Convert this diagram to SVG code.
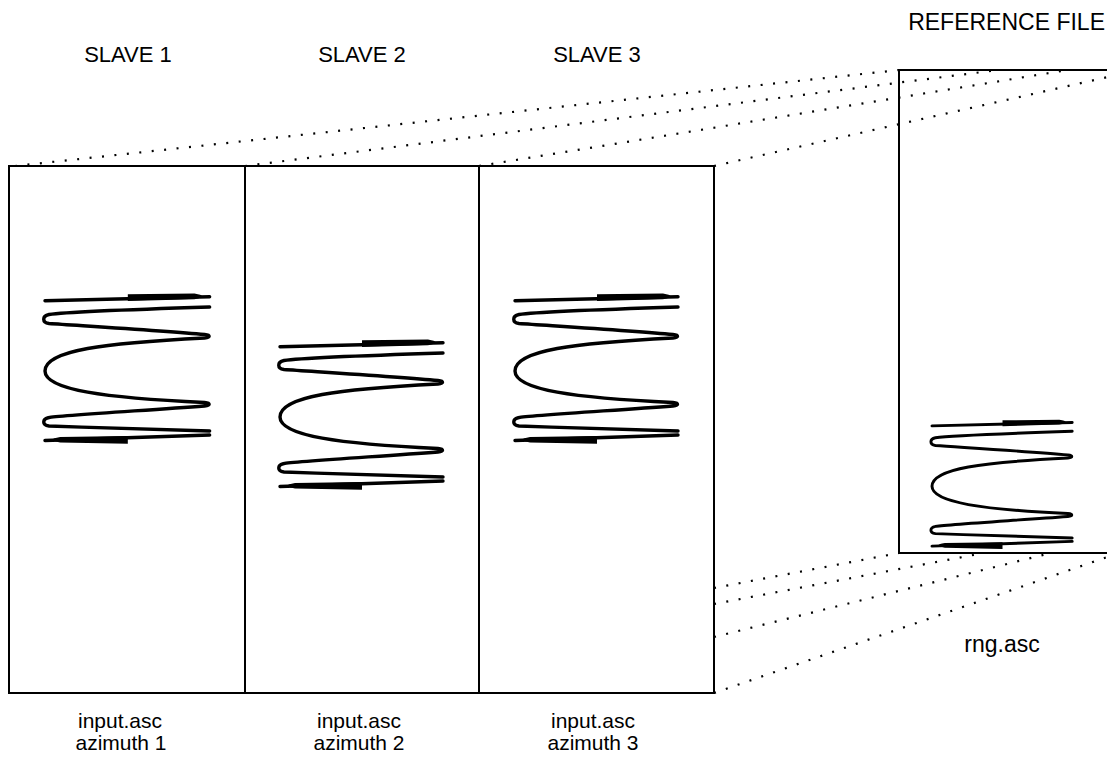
<svg xmlns="http://www.w3.org/2000/svg" xmlns:xlink="http://www.w3.org/1999/xlink" width="1107" height="775" viewBox="0 0 1107 775">
  <style>
    .frame { fill: none; stroke: #000; stroke-width: 2; }
    .dot { fill: none; stroke: #000; stroke-width: 2.2; stroke-dasharray: 2 10.5; }
    .coil { fill: none; stroke: #000; stroke-width: 3.4; stroke-linecap: round; stroke-linejoin: round; }
    .cap { fill: #000; }
    text { font-family: "Liberation Sans", Arial, sans-serif; font-size: 21px; fill: #000; }
    .title { font-size: 22px; }
    .big { font-size: 23px; }
    .mid { text-anchor: middle; }
  </style>
  <defs>
    <!-- a coil spring drawn from its top end cap down to its bottom end cap -->
    <g id="spring">
      <path class="coil" d="M0,5.7 L163,1.7"/>
      <path class="coil" d="M163,12 C100,14 20,17 4,19.5 C-3,21 -3,27.5 4,28.5 C40,31 120,36 158,39.5 C164,40 164,42.5 158,43 C60,48 0,55 0,76 C0,95 60,103 158,107.5 C164,108 164,110.5 158,111 C90,116 10,121 4,122.5 C-3,124 -3,130 4,131 C60,133 120,135 163,136"/>
      <path class="coil" d="M163,140 L0,145.5"/>
      <path class="cap" d="M82,-0.8 L148,-1.5 Q163,1 148,4.2 L82,6 Z"/>
      <path class="cap" d="M82,141 L15,142 Q0,144.5 15,147.5 L82,148.7 Z"/>
    </g>
  </defs>

  <rect width="1107" height="775" fill="#fff"/>

  <!-- projection lines from the slave windows onto the reference file -->
  <g id="connectors">
    <path class="dot" d="M15,166 L899,70"/>
    <path class="dot" d="M245,166 L998,70"/>
    <path class="dot" d="M479,166 L1068,70"/>
    <path class="dot" d="M714,166 L1139,70"/>
    <path class="dot" d="M714,588 L899,553"/>
    <path class="dot" d="M714,604 L984,553"/>
    <path class="dot" d="M714,637 L1051,553"/>
    <path class="dot" d="M714,693 L1119,553"/>
  </g>

  <g id="slave1">
    <text class="mid title" x="128" y="62">SLAVE 1</text>
    <rect class="frame" x="9" y="166" width="236" height="527"/>
    <use xlink:href="#spring" href="#spring" transform="translate(45,295) scale(1.01,1)"/>
    <text class="mid" x="120" y="728">input.asc</text>
    <text class="mid" x="121" y="750">azimuth 1</text>
  </g>

  <g id="slave2">
    <text class="mid title" x="362" y="62">SLAVE 2</text>
    <rect class="frame" x="245" y="166" width="234" height="527"/>
    <use xlink:href="#spring" href="#spring" transform="translate(280,341)"/>
    <text class="mid" x="359" y="728">input.asc</text>
    <text class="mid" x="359" y="750">azimuth 2</text>
  </g>

  <g id="slave3">
    <text class="mid title" x="597" y="62">SLAVE 3</text>
    <rect class="frame" x="479" y="166" width="235" height="527"/>
    <use xlink:href="#spring" href="#spring" transform="translate(515,295)"/>
    <text class="mid" x="593" y="728">input.asc</text>
    <text class="mid" x="593" y="750">azimuth 3</text>
  </g>

  <g id="reference">
    <text class="big" x="1105" y="30" text-anchor="end">REFERENCE FILE</text>
    <rect class="frame" x="899" y="70" width="230" height="483"/>
    <use xlink:href="#spring" href="#spring" transform="translate(932,421) scale(0.86)"/>
    <text class="mid big" x="1002" y="652">rng.asc</text>
  </g>
</svg>
